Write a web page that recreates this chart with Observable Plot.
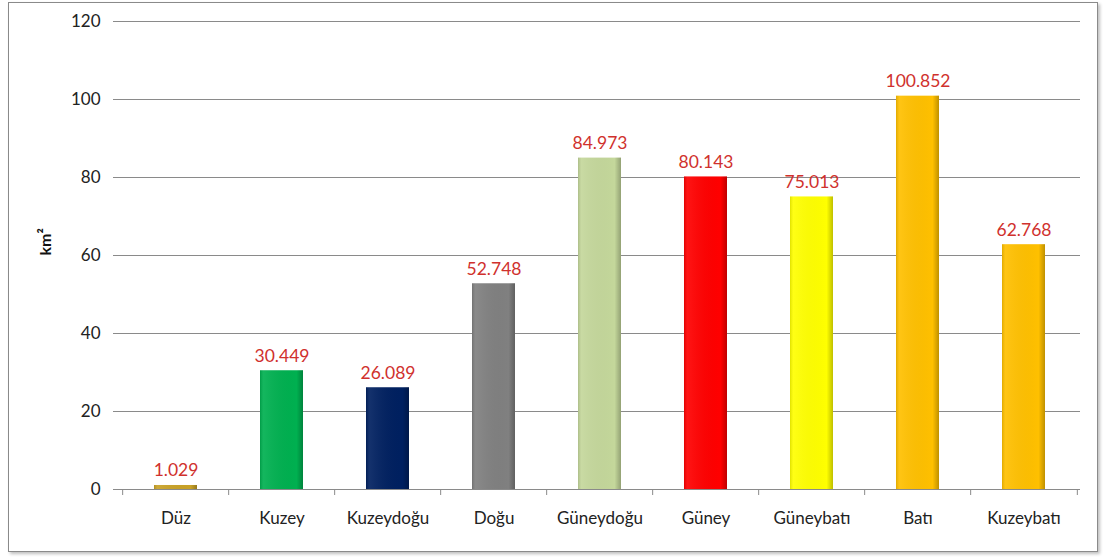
<!DOCTYPE html>
<html><head><meta charset="utf-8">
<script src="https://cdn.jsdelivr.net/npm/d3@7"></script>
<script src="https://cdn.jsdelivr.net/npm/@observablehq/plot@0.6"></script>
<style>
body{margin:0;background:#fff;}
#wrap{position:relative;width:1105px;height:558px;}
#border{position:absolute;left:8px;top:2px;width:1088px;height:548px;border:1px solid #8a8a8a;box-shadow:2px 2px 3px rgba(0,0,0,0.25);}
#chart{position:absolute;left:0;top:0;}
</style></head>
<body><div id="wrap"><div id="border"></div><div id="chart"></div></div>
<script>
const categories = ["Düz","Kuzey","Kuzeydoğu","Doğu","Güneydoğu","Güney","Güneybatı","Batı","Kuzeybatı"];
const values = [1.029,30.449,26.089,52.748,84.973,80.143,75.013,100.852,62.768];
const labels = ["1.029","30.449","26.089","52.748","84.973","80.143","75.013","100.852","62.768"];
const colors = ["#c9a227","#00b050","#002060","#808080","#c4d79b","#ff0000","#ffff00","#ffc000","#ffc000"];
const yTicks = [0,20,40,60,80,100,120];

const data = categories.map((c,i)=>({cat:c, v:values[i], label:labels[i], color:colors[i]}));
const W=1105,H=558,ML=120,MR=25,MT=21,MB=69;
const step=(W-ML-MR)/categories.length;
const font="Lato, 'Open Sans', sans-serif";

const plot = Plot.plot({
  width:W,height:H,marginLeft:ML,marginRight:MR,marginTop:MT,marginBottom:MB,
  style:{fontFamily:font,fontSize:"17px",color:"#222",background:"transparent"},
  x:{domain:categories,paddingInner:0.59,paddingOuter:0.295,label:null},
  y:{domain:[0,120],label:null},
  marks:[
    Plot.gridY(yTicks,{stroke:"#8a8a8a",strokeOpacity:1,insetLeft:-7}),
    Plot.ruleX([0],{frameAnchor:"left",stroke:"#8a8a8a"}),
    Plot.ruleY([0],{stroke:"#8a8a8a"}),
    Plot.ruleX(categories,{x:d=>d,dx:-step/2,y1:0,y2:0,insetBottom:-6,stroke:"#8a8a8a"}),
    Plot.ruleX([categories[categories.length-1]],{x:d=>d,dx:step/2,y1:0,y2:0,insetBottom:-6,stroke:"#8a8a8a"}),
    Plot.axisY(yTicks,{tickSize:0,tickPadding:20,fontSize:17,fill:"#222"}),
    Plot.axisX({tickSize:0,tickPadding:22,fontSize:17,fill:"#222"}),
    Plot.barY(data,{x:"cat",y:"v",fill:"color"}),
    Plot.barY(data,{x:"cat",y:"v",fill:"url(#shade)"}),
    Plot.text(data,{x:"cat",y:"v",text:"label",dy:-9,lineAnchor:"bottom",fill:"#d0312d",fontSize:17.5}),
    Plot.text(["km²"],{frameAnchor:"left",dx:-75,rotate:-90,fontWeight:"bold",fontSize:16,fill:"#111"})
  ]
});
const svg = d3.select(plot);
const defs = svg.insert("defs",":first-child");
const g = defs.append("linearGradient").attr("id","shade").attr("x1","0").attr("x2","1").attr("y1","0").attr("y2","0");
g.append("stop").attr("offset","0").attr("stop-color","#000").attr("stop-opacity",0.12);
g.append("stop").attr("offset","0.08").attr("stop-color","#fff").attr("stop-opacity",0.08);
g.append("stop").attr("offset","0.85").attr("stop-color","#000").attr("stop-opacity",0.0);
g.append("stop").attr("offset","1").attr("stop-color","#000").attr("stop-opacity",0.25);
document.getElementById("chart").appendChild(plot);
</script></body></html>
